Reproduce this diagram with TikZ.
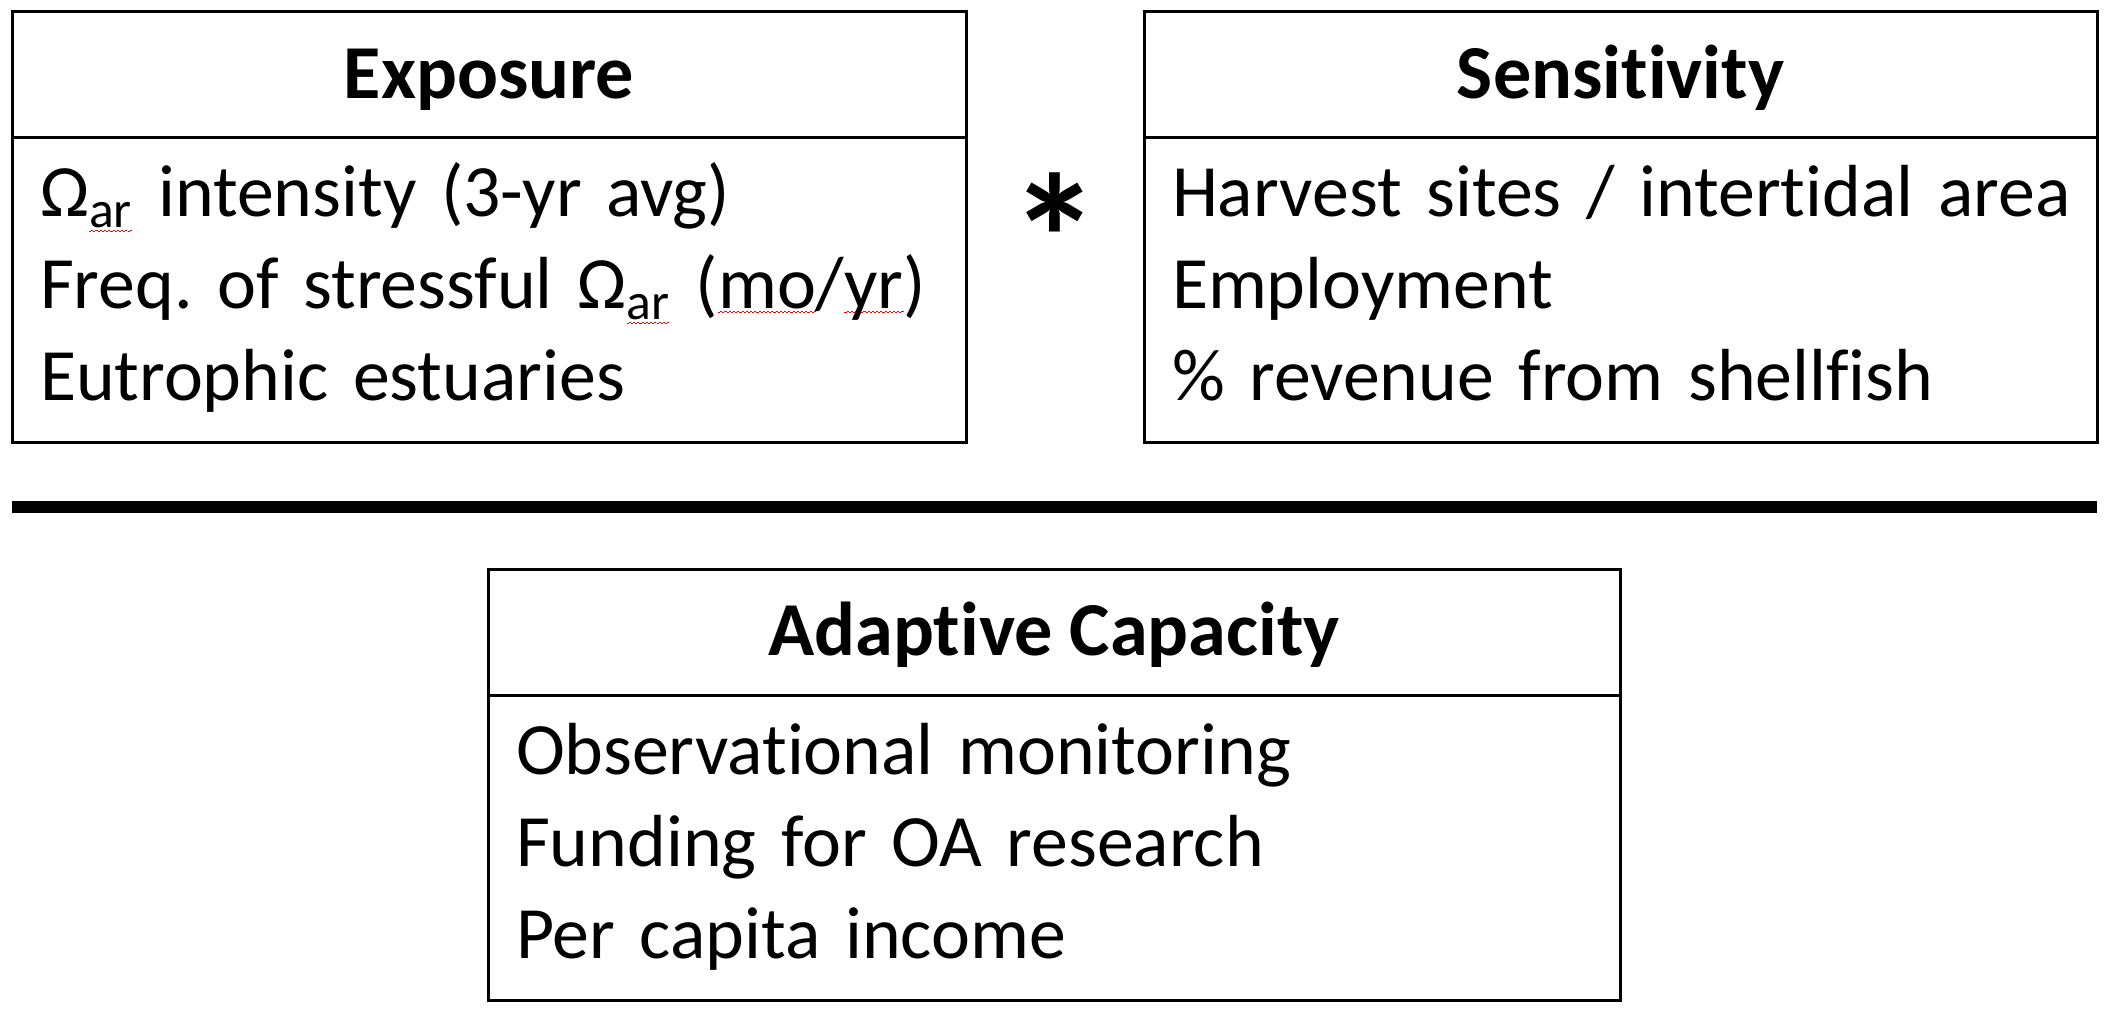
\documentclass[tikz,border=0pt]{standalone}
\usepackage{fontspec}
\setmainfont{Carlito}[Ligatures=NoCommon]
\usetikzlibrary{positioning}

\newcommand*{\redwave}[1]{\leavevmode\setbox0\hbox{#1}%
  \rlap{\color{red}\raisebox{-1.3pt}{\hbox to \wd0{\xleaders\hbox to 1.2pt{\rule{0.6pt}{0.35pt}\raisebox{0.35pt}{\rule{0.6pt}{0.35pt}}}\hfill}}}\box0}

\begin{document}
\begin{tikzpicture}[
    font=\fontsize{21pt}{26.2pt}\selectfont\frenchspacing,
    headbox/.style={draw, line width=0.03cm, outer sep=0pt,
        minimum height=1.26cm, inner sep=0pt,
        text height=0.47cm, text depth=0pt, font=\fontsize{21.7pt}{26.2pt}\selectfont\bfseries},
    bodybox/.style={draw, line width=0.03cm, outer sep=0pt,
        minimum height=3.05cm, inner xsep=0.28cm, inner ysep=0pt, align=left},
    divider/.style={line width=0.12cm}
    ]
\useasboundingbox (0,0) rectangle (21.15,-10.14);

% Exposure
\node[headbox, minimum width=9.54cm] (exphead) at (4.89,-0.75) {Exposure};
\node[bodybox, text width=8.98cm, below=0pt of exphead] (expbody)
    {\begin{tabular}{@{}l@{}}
     Ω\textsubscript{\redwave{ar}} intensity (3-yr avg)\\
     Freq. of stressful Ω\textsubscript{\redwave{ar}} (\redwave{mo}/\redwave{yr})\\
     Eutrophic estuaries
     \end{tabular}};

% Sensitivity
\node[headbox, minimum width=9.53cm] (senshead) at (16.205,-0.75) {Sensitivity};
\node[bodybox, text width=8.97cm, below=0pt of senshead] (sensbody)
    {\begin{tabular}{@{}l@{}}
     Harvest sites / intertidal area\\
     Employment\\
     \% revenue from shellfish
     \end{tabular}};

% product sign
\node[font=\fontsize{52pt}{52pt}\selectfont\bfseries] (times) at (10.55,-2.38) {*};

% fraction bar
\coordinate (divl) at (0.12,-5.07);
\coordinate (divr) at (20.97,-5.07);
\draw[divider] (divl) -- (divr);

% Adaptive Capacity
\node[headbox, minimum width=11.32cm] (adapthead) at (10.54,-6.325) {Adaptive Capacity};
\node[bodybox, text width=10.76cm, below=0pt of adapthead] (adaptbody)
    {\begin{tabular}{@{}l@{}}
     Observational monitoring\\
     Funding for OA research\\
     Per capita income
     \end{tabular}};

\end{tikzpicture}
\end{document}
